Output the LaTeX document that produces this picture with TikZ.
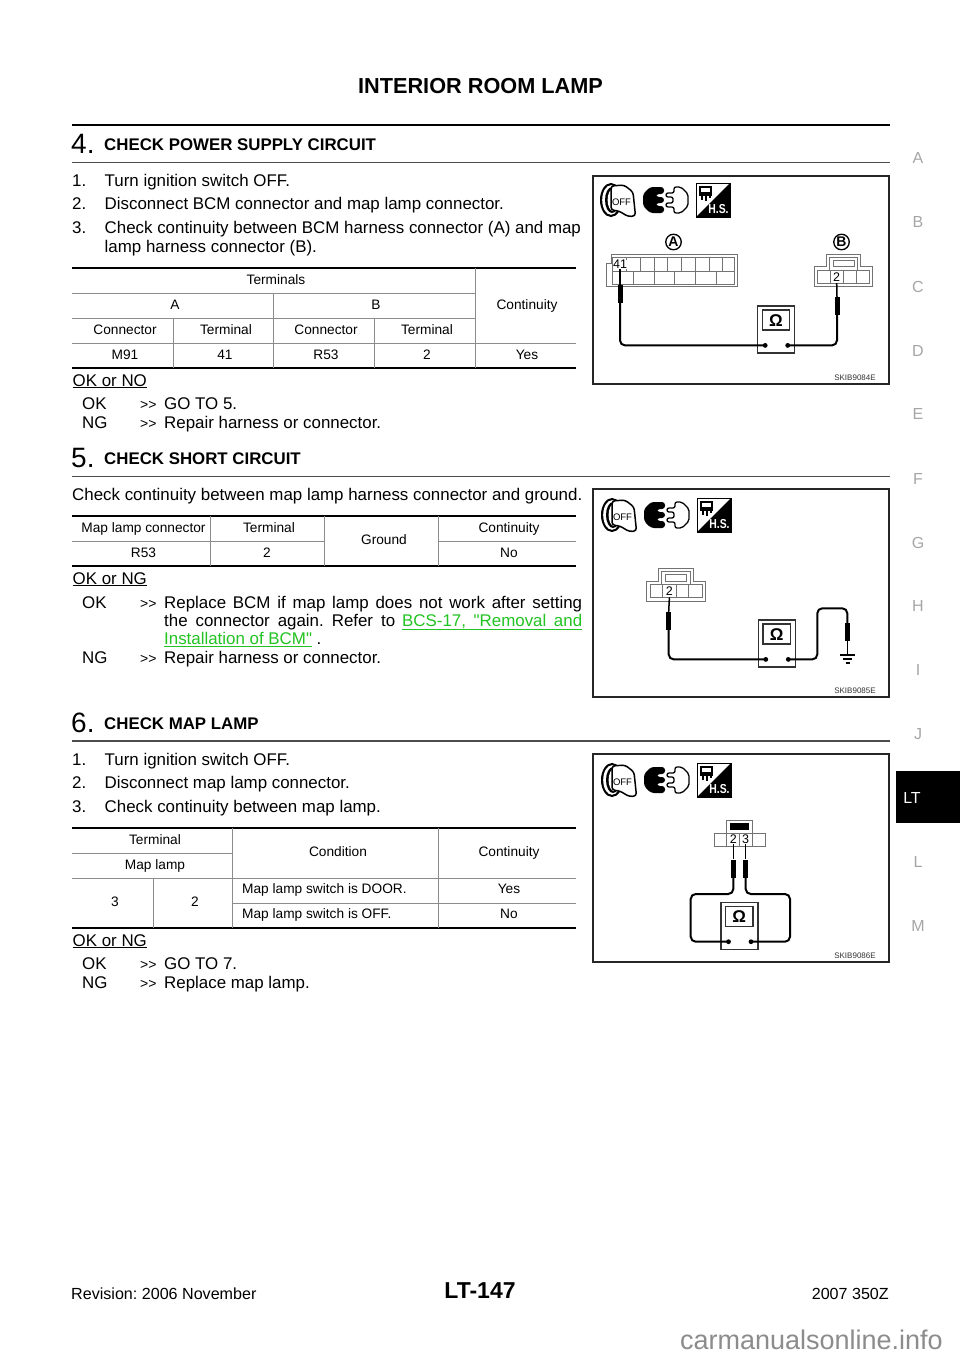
\documentclass[tikz,border=0pt]{standalone}
\usepackage{fontspec}
\setmainfont[Ligatures=TeXOff]{Liberation Sans}
\usetikzlibrary{positioning}
\definecolor{linkgreen}{HTML}{22C322}
\definecolor{sidegray}{HTML}{A6A6A6}
\definecolor{markgray}{HTML}{8C8C8C}
\newcommand{\bigger}[1]{\fontsize{#1}{#1}\selectfont}
\frenchspacing
\tikzset{
	body/.style={anchor=base west,inner sep=0pt,font=\bigger{16.9}},
	cell/.style={anchor=base,inner sep=0pt,font=\bigger{13.7}},
	leftcell/.style={cell,anchor=base west},
	steptitle/.style={anchor=base west,inner sep=0pt,font=\bigger{16.85}\bfseries},
	stepnum/.style={anchor=base west,inner sep=0pt,font=\bigger{28}},
	arrows2/.style={anchor=base west,inner sep=0pt,font=\bigger{14}},
	side/.style={inner sep=0pt,font=\bigger{16},text=sidegray},
	heavy/.style={line width=2.2pt,black},
	steprule/.style={line width=1.2pt,black!70},
	tbl/.style={line width=0.7pt,black!45},
	frame/.style={line width=1.2pt,black!85},
	conn/.style={line width=0.8pt,black!55},
	wire/.style={line width=2pt,rounded corners=5pt},
	lead/.style={line width=1.5pt},
	probe/.style={fill=black,inner sep=0pt,minimum width=5pt,minimum height=18pt},
	tagtext/.style={inner sep=0pt,font=\bigger{8},text=black!80},
	pin/.style={inner sep=0pt,font=\bigger{12.5}},
	letter/.style={circle,draw,line width=1.3pt,inner sep=0pt,minimum size=15.5pt,font=\bigger{14}\bfseries},
	% key, connector and harness marks
	iconrow/.pic={
		\fill[black] (11,17) ellipse [x radius=11,y radius=17];
		\fill[white] (11,17) ellipse [x radius=8.8,y radius=14.8];
		\fill[black] (12,17) ellipse [x radius=7,y radius=13];
		\fill[white] (13,17) ellipse [x radius=5.4,y radius=11];
		\draw[line width=1.5pt,fill=white,rounded corners=3pt] (11,3) -- (24,2) -- (33,9) -- (35.5,33) -- (28,33.5) -- (19,28) -- (11,27) -- cycle;
		\node[inner sep=0pt,font=\bigger{9.5}] (-off) at (21.5,19) {OFF};
		\fill[black,rounded corners=3pt] (64,4) -- (50,4) -- (43,11) -- (43,23) -- (50,30) -- (64,30) -- (64,23) -- (56,23) -- (56,20) -- (64,20) -- (64,14) -- (56,14) -- (56,11) -- (64,11) -- cycle;
		\draw[line width=1.3pt,fill=white,rounded corners=2pt] (74,4) -- (81,4) -- (88,11) -- (88,23) -- (81,30) -- (74,30) -- (74,24) -- (66,24) -- (66,20) -- (73,20) -- (73,14) -- (66,14) -- (66,10) -- (74,10) -- cycle;
		\draw[line width=1pt,fill=white] (96,0) rectangle (130,34);
		\fill[black] (130,0) -- (130,34) -- (96,34) -- cycle;
		\draw[line width=1.3pt] (100,4) rectangle (111,10);
		\draw[line width=1.1pt] (102,10) -- (102,17) (106,10) -- (106,18) (110,10) -- (110,15) (99,12) -- (112,12);
		\node[inner sep=0pt,text=white,font=\bigger{13}\bfseries,xscale=0.8,transform shape] (-hs) at (118.5,26) {H.S.};
	},
	meter/.pic={
		\draw[line width=1.2pt,black!80,fill=white] (0,0) rectangle (37,47);
		\draw[line width=1.2pt,black!80] (4.7,4) rectangle (32,24);
		\node[inner sep=0pt,font=\bigger{17}\bfseries] (-ohm) at (18.3,14.5) {Ω};
		\fill (7.5,39.4) circle (2.4pt);
		\fill (30,39.4) circle (2.4pt);
		\coordinate (-l) at (7.5,39.4);
		\coordinate (-r) at (30,39.4);
	},
	twopin/.pic={
		\draw[conn] (12,0) -- (46.7,0) -- (46.7,12.7) -- (58.7,12.7) -- (58.7,32.7) -- (0,32.7) -- (0,12.7) -- (12,12.7) -- cycle;
		\draw[conn] (19,6) rectangle (40,12.7) (15,3) -- (43.7,3) -- (43.7,15.5) (15,3) -- (15,15.5);
		\draw[conn] (3.3,16) rectangle (55.3,29.3) (16,16) -- (16,29.3) (29.3,16) -- (29.3,29.3) (42,16) -- (42,29.3);
		\node[pin] (-two) at (22.7,22.7) {2};
		\coordinate (-t) at (22.7,29);
	},
}
\begin{document}
\begin{tikzpicture}[x=1pt,y=-1pt]
	\useasboundingbox (0,0) rectangle (960,1358);
	\fill[white] (0,0) rectangle (960,1358);
	% page head and foot
	\node[inner sep=0pt,font=\bigger{21.7}\bfseries] (title) at (480.5,86) {INTERIOR ROOM LAMP};
	\node[anchor=base west,inner sep=0pt,font=\bigger{16.1}] (rev) at (71,1299) {Revision: 2006 November};
	\node[inner sep=0pt,font=\bigger{23}\bfseries] (pageno) at (480,1291) {LT-147};
	\node[anchor=base east,inner sep=0pt,font=\bigger{16.1}] (model) at (889,1299) {2007 350Z};
	\node[anchor=base east,inner sep=0pt,font=\bigger{27},text=markgray] (site) at (943,1349) {carmanualsonline.info};
	% side index
	\foreach \mark/\ypos in {A/157.7,B/221.7,C/286.7,D/350.7,E/413.7,F/478.7,G/542.7,H/605.7,I/669.7,J/733.7,L/861.7,M/925.7}
		\node[side] (side\mark) at (918,\ypos) {\mark};
	\fill[black] (896,771) rectangle (960,823);
	\node[inner sep=0pt,font=\bigger{16},text=white] (sideLT) at (912,797.7) {LT};
	% step 4
	\draw[heavy] (72,125) -- (890,125);
	\node[stepnum] (num4) at (71,153) {4.};
	\node[steptitle] (title4) at (104,150.5) {CHECK POWER SUPPLY CIRCUIT};
	\draw[steprule] (72,162.5) -- (890,162.5);
	\node[body] at (72,186) {1.};
	\node[body] at (104.5,186) {Turn ignition switch OFF.};
	\node[body] at (72,209.5) {2.};
	\node[body] at (104.5,209.5) {Disconnect BCM connector and map lamp connector.};
	\node[body] at (72,233) {3.};
	\node[body] at (104.5,233) {Check continuity between BCM harness connector (A) and map};
	\node[body] at (104.5,252) {lamp harness connector (B).};
	% table 1
	\draw[heavy] (72,268) -- (576,268) (72,368) -- (576,368);
	\draw[tbl] (72,293) -- (475,293) (72,318) -- (475,318) (72,343) -- (576,343);
	\draw[tbl] (273.5,293) -- (273.5,368) (173,318) -- (173,368) (374,318) -- (374,368) (475,268) -- (475,368);
	\node[cell] at (276,284) {Terminals};
	\node[cell] at (175,309) {A};
	\node[cell] at (376,309) {B};
	\node[cell] at (527,309) {Continuity};
	\foreach \txt/\xpos in {Connector/125,Terminal/226,Connector/326,Terminal/427}
		\node[cell] at (\xpos,334) {\txt};
	\foreach \txt/\xpos in {M91/125,41/225,R53/326,2/427,Yes/527}
		\node[cell] at (\xpos,359) {\txt};
	\node[body] at (72.5,386) {\underline{OK or NO}};
	\node[body] at (82,409) {OK};
	\node[arrows2] at (140,409) {>>};
	\node[body] at (164,409) {GO TO 5.};
	\node[body] at (82,428) {NG};
	\node[arrows2] at (140,428) {>>};
	\node[body] at (164,428) {Repair harness or connector.};
	% step 5
	\node[stepnum] (num5) at (71,467) {5.};
	\node[steptitle] (title5) at (104,464.5) {CHECK SHORT CIRCUIT};
	\draw[steprule] (72,476.5) -- (890,476.5);
	\node[body] at (72,500) {Check continuity between map lamp harness connector and ground.};
	% table 2
	\draw[heavy] (72,516) -- (576,516) (72,566) -- (576,566);
	\draw[tbl] (72,541) -- (324,541) (438,541) -- (576,541);
	\draw[tbl] (210,516) -- (210,566) (324,516) -- (324,566) (438,516) -- (438,566);
	\node[cell] at (143.5,532) {Map lamp connector};
	\node[cell] at (269,532) {Terminal};
	\node[cell] at (384,544) {Ground};
	\node[cell] at (509,532) {Continuity};
	\node[cell] at (143.5,557) {R53};
	\node[cell] at (267,557) {2};
	\node[cell] at (509,557) {No};
	\node[body] at (72.5,584) {\underline{OK or NG}};
	\node[body] at (82,608) {OK};
	\node[arrows2] at (140,608) {>>};
	\node[body] at (164,608) {\makebox[418pt][s]{Replace BCM if map lamp does not work after setting}};
	\node[body] at (164,626) {\makebox[231pt][s]{the connector again. Refer to}};
	\node[body,text=linkgreen] at (402,626) {\underline{\makebox[180pt][s]{BCS-17, "Removal and}}};
	\node[body] at (164,644.5) {\textcolor{linkgreen}{\underline{Installation of BCM"}} .};
	\node[body] at (82,663) {NG};
	\node[arrows2] at (140,663) {>>};
	\node[body] at (164,663) {Repair harness or connector.};
	% step 6
	\node[stepnum] (num6) at (71,732) {6.};
	\node[steptitle] (title6) at (104,729) {CHECK MAP LAMP};
	\draw[steprule] (72,741) -- (890,741);
	\node[body] at (72,765) {1.};
	\node[body] at (104.5,765) {Turn ignition switch OFF.};
	\node[body] at (72,788.5) {2.};
	\node[body] at (104.5,788.5) {Disconnect map lamp connector.};
	\node[body] at (72,812) {3.};
	\node[body] at (104.5,812) {Check continuity between map lamp.};
	% table 3
	\draw[heavy] (72,828) -- (576,828) (72,928) -- (576,928);
	\draw[tbl] (72,853) -- (232,853) (72,878) -- (576,878) (232,903) -- (576,903);
	\draw[tbl] (232,828) -- (232,928) (438,828) -- (438,928) (153,878) -- (153,928);
	\node[cell] at (155,844) {Terminal};
	\node[cell] at (155,869) {Map lamp};
	\node[cell] at (338,856) {Condition};
	\node[cell] at (509,856) {Continuity};
	\node[cell] at (115,906) {3};
	\node[cell] at (195,906) {2};
	\node[leftcell] at (242,893.5) {Map lamp switch is DOOR.};
	\node[cell] at (509,893.5) {Yes};
	\node[leftcell] at (242,918.5) {Map lamp switch is OFF.};
	\node[cell] at (509,918.5) {No};
	\node[body] at (72.5,946) {\underline{OK or NG}};
	\node[body] at (82,969) {OK};
	\node[arrows2] at (140,969) {>>};
	\node[body] at (164,969) {GO TO 7.};
	\node[body] at (82,988) {NG};
	\node[arrows2] at (140,988) {>>};
	\node[body] at (164,988) {Replace map lamp.};
	% figure for step 4
	\draw[frame] (593,176) rectangle (889,384);
	\pic (iconsA) at (600,183) {iconrow};
	\node[letter] (markA) at (673.5,242) {A};
	\node[letter] (markB) at (841.5,242) {B};
	\draw[conn] (611,254) -- (737,254) -- (737,286) -- (606,286) -- (606,263) -- (611,263) -- cycle;
	\draw[conn] (612.7,257) rectangle (734.3,284) (612.7,271) -- (734.3,271);
	\foreach \xpos in {626.7,640,654,667.7,681.7,695,709,722.3}
		\draw[conn] (\xpos,257) -- (\xpos,271);
	\foreach \xpos in {633.3,654,674.7,695.3,716}
		\draw[conn] (\xpos,271) -- (\xpos,284);
	\node[pin,fill=white,minimum width=13pt] (pin41) at (620,264.3) {41};
	\pic (plugB) at (814,254) {twopin};
	\pic (ohmA) at (757.7,306) {meter};
	\node[probe] (probeA) at (620,294) {};
	\node[probe] (probeB) at (837,306) {};
	\draw[lead] (pin41.south) -- (probeA.north);
	\draw[lead] (plugB-t) -- (probeB.north);
	\draw[wire] (probeA.south) |- (ohmA-l);
	\draw[wire] (probeB.south) |- (ohmA-r);
	\node[tagtext] (tagA) at (855,378) {SKIB9084E};
	% figure for step 5
	\draw[frame] (593,489) rectangle (889,697);
	\pic (iconsB) at (601,498) {iconrow};
	\pic (plugC) at (646.7,568.3) {twopin};
	\pic (ohmB) at (758.3,620) {meter};
	\node[probe] (probeC) at (668.7,621) {};
	\node[probe] (probeD) at (847.3,632) {};
	\coordinate (gnd) at (847.3,655);
	\draw[lead] (plugC-t) -- (probeC.north);
	\draw[wire] (probeC.south) |- (ohmB-l);
	\draw[wire] (ohmB-r) -| (817.3,608.3) -| (probeD.north);
	\draw[lead] (probeD.south) -- (gnd);
	\draw[lead] (840,655) -- (855,655);
	\draw[line width=1.2pt] (843.3,659) -- (851.7,659) (845.5,663) -- (849.5,663);
	\node[tagtext] (tagB) at (855,691) {SKIB9085E};
	% figure for step 6
	\draw[frame] (593,754) rectangle (889,962);
	\pic (iconsC) at (601,763) {iconrow};
	\draw[conn] (714,833.3) rectangle (765.7,846);
	\draw[conn] (726.7,820) rectangle (752.7,846) (739.7,833.3) -- (739.7,846);
	\fill[black] (730,822.7) rectangle (749.3,830);
	\node[pin] (pin2) at (733.3,839.5) {2};
	\node[pin] (pin3) at (745.7,839.5) {3};
	\pic (ohmC) at (721,902.3) {meter};
	\node[probe] (probeE) at (733.3,868.5) {};
	\node[probe] (probeF) at (745.7,868.5) {};
	\coordinate (bendE) at (733.3,894);
	\coordinate (bendF) at (745.7,894);
	\draw[lead] (pin2.south) -- (probeE.north);
	\draw[lead] (pin3.south) -- (probeF.north);
	\draw[wire] (probeE.south) -- (bendE) -- (690.7,894) |- (ohmC-l);
	\draw[wire] (probeF.south) -- (bendF) -- (790,894) |- (ohmC-r);
	\node[tagtext] (tagC) at (855,956) {SKIB9086E};
\end{tikzpicture}
\end{document}
